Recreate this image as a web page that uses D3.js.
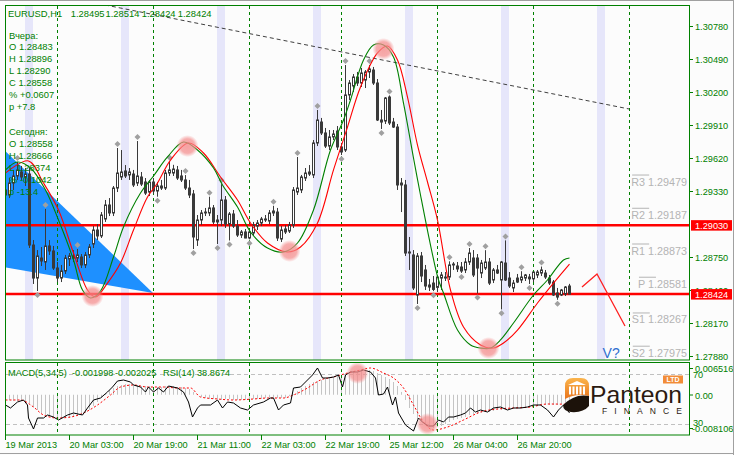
<!DOCTYPE html>
<html><head><meta charset="utf-8">
<script src="https://cdn.jsdelivr.net/npm/d3@7"></script>
<style>
html,body{margin:0;padding:0;background:#fcfcfc;}
svg{display:block;font-family:"Liberation Sans",Arial,sans-serif;}
</style></head><body>
<script>
// ---------------- DATA ----------------
const symbol = "EURUSD,H1";
const headerOHLC = [1.28495, 1.28514, 1.28424, 1.28424];
const yesterdayTitle = "Вчера:";
const yesterdayRows = ["O 1.28483", "H 1.28896", "L 1.28290", "C 1.28558", "% +0.0607", "p +7.8"];
const todayTitle = "Сегодня:";
const todayRows = ["O 1.28558", "H 1.28666", "L 1.28374", "% -0.1042", "p -13.4"];

// hourly candles [open, high, low, close], bar 0 = 19 Mar 2013 11:00
const ohlc = [
[1.29339,1.29400,1.29251,1.29295],[1.29295,1.29444,1.29268,1.29400],[1.29400,1.29515,1.29339,1.29462],[1.29462,1.29585,1.29427,1.29515],
[1.29497,1.29550,1.29427,1.29453],[1.29453,1.29532,1.29374,1.29479],[1.29479,1.29532,1.28829,1.28855],[1.28855,1.28899,1.28513,1.28565],
[1.28565,1.28811,1.28451,1.28759],[1.28741,1.28838,1.28671,1.28715],[1.28706,1.29172,1.28636,1.28847],[1.28847,1.28899,1.28768,1.28803],
[1.28803,1.28847,1.28636,1.28653],[1.28653,1.28706,1.28530,1.28565],[1.28565,1.28680,1.28530,1.28627],[1.28627,1.28768,1.28601,1.28741],
[1.28732,1.28785,1.28671,1.28759],[1.28759,1.28811,1.28706,1.28741],[1.28741,1.28820,1.28706,1.28768],[1.28750,1.28776,1.28653,1.28680],
[1.28680,1.28794,1.28653,1.28768],[1.28768,1.28864,1.28741,1.28838],[1.28864,1.29022,1.28829,1.28987],[1.28987,1.29040,1.28899,1.28935],
[1.28935,1.29145,1.28917,1.29119],[1.29084,1.29251,1.29058,1.29207],[1.29207,1.29268,1.29110,1.29137],[1.29137,1.29374,1.29110,1.29356],
[1.29356,1.29708,1.29321,1.29488],[1.29453,1.29690,1.29427,1.29497],[1.29506,1.29558,1.29444,1.29462],[1.29471,1.29532,1.29427,1.29497],
[1.29479,1.29515,1.29365,1.29383],[1.29400,1.29769,1.29374,1.29462],[1.29453,1.29497,1.29374,1.29391],[1.29409,1.29444,1.29295,1.29312],
[1.29321,1.29427,1.29286,1.29409],[1.29409,1.29444,1.29304,1.29330],[1.29330,1.29409,1.29280,1.29374],[1.29374,1.29427,1.29339,1.29356],
[1.29356,1.29515,1.29339,1.29488],[1.29488,1.29590,1.29462,1.29515],[1.29488,1.29560,1.29462,1.29523],[1.29515,1.29550,1.29427,1.29444],
[1.29462,1.29515,1.29409,1.29427],[1.29427,1.29470,1.29339,1.29356],[1.29356,1.29427,1.29268,1.29295],[1.29304,1.29339,1.28820,1.28926],
[1.28899,1.29119,1.28847,1.29075],[1.29075,1.29163,1.29031,1.29137],[1.29145,1.29181,1.29110,1.29137],[1.29137,1.29280,1.29110,1.29181],
[1.29181,1.29207,1.29040,1.29058],[1.29058,1.29119,1.28864,1.29075],[1.29075,1.29390,1.29022,1.29251],[1.29251,1.29286,1.29005,1.29040],
[1.29040,1.29145,1.28895,1.29128],[1.29128,1.29163,1.29005,1.29022],[1.29022,1.29075,1.28926,1.28943],[1.28943,1.28987,1.28917,1.28970],
[1.28970,1.28996,1.28915,1.28917],[1.28917,1.28987,1.28905,1.28970],[1.28961,1.29058,1.28935,1.29031],[1.29022,1.29075,1.28987,1.29049],
[1.29049,1.29102,1.29022,1.29084],[1.29084,1.29119,1.29058,1.29075],[1.29066,1.29163,1.29040,1.29137],[1.29137,1.29200,1.29110,1.29154],
[1.29145,1.29181,1.28891,1.28917],[1.28908,1.29022,1.28882,1.28987],[1.28996,1.29031,1.28952,1.28970],[1.28978,1.29058,1.28961,1.29031],
[1.29031,1.29365,1.29005,1.29339],[1.29321,1.29629,1.29295,1.29356],[1.29339,1.29471,1.29312,1.29453],[1.29444,1.29532,1.29418,1.29488],
[1.29479,1.29558,1.29462,1.29497],[1.29471,1.29778,1.29444,1.29752],[1.29752,1.30042,1.29725,1.29954],[1.29936,1.29972,1.29822,1.29840],
[1.29840,1.29884,1.29708,1.29725],[1.29725,1.29866,1.29690,1.29805],[1.29805,1.29866,1.29778,1.29831],[1.29857,1.29901,1.29690,1.29717],
[1.29717,1.29752,1.29646,1.29673],[1.29690,1.30437,1.29673,1.30174],[1.30174,1.30305,1.30130,1.30279],[1.30253,1.30358,1.30200,1.30332],
[1.30332,1.30376,1.30253,1.30279],[1.30279,1.30411,1.30244,1.30367],[1.30305,1.30393,1.30235,1.30376],[1.30376,1.30437,1.30323,1.30402],
[1.30393,1.30420,1.30262,1.30279],[1.30279,1.30314,1.29945,1.29954],[1.29954,1.30042,1.29875,1.29936],[1.29945,1.30156,1.29919,1.30147],
[1.30156,1.30170,1.29910,1.29928],[1.29936,1.29972,1.29884,1.29892],[1.29892,1.29919,1.29339,1.29383],[1.29383,1.29444,1.29145,1.29400],
[1.29383,1.29427,1.28759,1.28785],[1.28785,1.28926,1.28636,1.28794],[1.28768,1.28811,1.28460,1.28478],[1.28416,1.28785,1.28337,1.28759],
[1.28759,1.28794,1.28530,1.28583],[1.28636,1.28680,1.28460,1.28495],[1.28504,1.28557,1.28451,1.28486],[1.28521,1.28583,1.28450,1.28465],
[1.28483,1.28592,1.28442,1.28574],[1.28565,1.28618,1.28460,1.28592],[1.28574,1.28618,1.28539,1.28565],[1.28574,1.28712,1.28548,1.28680],
[1.28680,1.28705,1.28636,1.28688],[1.28671,1.28706,1.28618,1.28645],[1.28662,1.28706,1.28610,1.28627],[1.28636,1.28741,1.28609,1.28706],
[1.28706,1.28829,1.28680,1.28785],[1.28741,1.28811,1.28574,1.28592],[1.28741,1.28776,1.28430,1.28653],[1.28609,1.28724,1.28565,1.28697],
[1.28653,1.28810,1.28636,1.28706],[1.28706,1.28741,1.28504,1.28521],[1.28548,1.28653,1.28521,1.28636],[1.28636,1.28680,1.28601,1.28609],
[1.28548,1.28715,1.28290,1.28706],[1.28697,1.28896,1.28539,1.28548],[1.28565,1.28618,1.28478,1.28495],[1.28478,1.28548,1.28442,1.28521],
[1.28565,1.28601,1.28521,1.28530],[1.28548,1.28625,1.28521,1.28574],[1.28565,1.28601,1.28539,1.28592],[1.28574,1.28601,1.28513,1.28558],
[1.28558,1.28618,1.28530,1.28618],[1.28592,1.28636,1.28565,1.28618],[1.28609,1.28666,1.28583,1.28636],[1.28609,1.28636,1.28557,1.28574],
[1.28565,1.28592,1.28504,1.28521],[1.28530,1.28548,1.28407,1.28416],[1.28434,1.28478,1.28374,1.28398],[1.28416,1.28469,1.28407,1.28460],
[1.28425,1.28495,1.28407,1.28486],[1.28495,1.28514,1.28424,1.28424]
];

const upFractals = [3,10,18,28,33,41,45,51,54,67,73,78,85,91,96,111,116,120,125,129,134];
const downFractals = [8,38,47,53,56,61,84,94,103,107,114,118,124,131,138];

// smoothed moving averages: [bar, price]
const greenMA = [[0,1.29515],[3,1.29585],[6.25,1.29532],[10,1.29339],[13.25,1.29075],[17,1.28724],[19.25,1.28460],[21.25,1.28390],[23.75,1.28451],[27,1.28750],[29.5,1.29014],[33.75,1.29312],[37,1.29462],[40.5,1.29629],[44.5,1.29761],[48,1.29690],[52,1.29532],[54.25,1.29383],[58,1.29189],[61.25,1.28970],[65.5,1.28829],[69.5,1.28794],[73,1.28873],[77,1.29163],[81.25,1.29690],[84.5,1.29954],[86.25,1.30130],[89.5,1.30481],[92,1.30613],[94.5,1.30613],[97,1.30508],[99.5,1.30103],[102,1.29620],[103.75,1.29295],[106.25,1.28855],[108.25,1.28548],[109.5,1.28434],[113,1.28108],[116.25,1.27977],[118.75,1.27950],[121.25,1.27950],[123.75,1.28021],[127,1.28170],[132,1.28416],[135.5,1.28548],[139.5,1.28724],[141,1.28741]];
const redMA = [[0,1.29488],[5.75,1.29594],[9.5,1.29400],[13.25,1.29163],[17,1.28785],[20.5,1.28460],[22.5,1.28398],[25.5,1.28521],[28.75,1.28697],[32,1.28987],[35.5,1.29277],[38,1.29400],[41.25,1.29602],[45.75,1.29752],[49.5,1.29664],[53.75,1.29453],[58,1.29251],[61.25,1.29049],[65.5,1.28873],[70.5,1.28794],[73.75,1.28838],[78,1.29049],[82,1.29515],[85.5,1.29892],[88.75,1.30244],[93,1.30543],[95.5,1.30604],[98,1.30481],[100.5,1.30156],[103,1.29734],[105.5,1.29409],[108,1.29075],[111.25,1.28460],[114.5,1.28135],[118.75,1.27977],[122,1.27950],[124.5,1.27994],[128,1.28108],[133,1.28346],[137,1.28521],[141,1.28688]];
const mainHighlights = [[21.75,1.28407],[45.5,1.29725],[71,1.28803],[94.5,1.30578],[120.75,1.27950]];

const hLevels = [1.29030, 1.28424];
const trendLine = [[25,1.30965],[156,1.30051]];
const triangle = [[-0.5,1.29700],[37,1.28434],[-0.5,1.28662]];
const forecastPath = [[144.25,1.28486],[148,1.28601],[155,1.28144]];
const pivotNames = ["R3","R2","R1","P","S1","S2"];
const pivotValues = [1.29479,1.29187,1.28873,1.28581,1.28267,1.27975];
const sessionBands = [5,29,53,77,100,124,148];
const daySeparators = [13,37,61,84,108,132,156];

const priceTicks = [1.30780,1.30490,1.30200,1.29910,1.29620,1.29330,1.28750,1.28460,1.28170,1.27880];
const xTickBars = [0,16,32,48,64,80,96,112,128];
const xTickLabels = ["19 Mar 2013","20 Mar 03:00","20 Mar 19:00","21 Mar 11:00","22 Mar 03:00","22 Mar 19:00","25 Mar 12:00","26 Mar 04:00","26 Mar 20:00"];

// MACD(5,34,5) main per bar
const macdMain = [
-0.00111,-0.00111,-0.00132,-0.00132,-0.00132,-0.00154,-0.00175,
-0.00260,-0.00323,-0.00387,
-0.00429,-0.00450,-0.00472,-0.00493,-0.00493,-0.00493,-0.00493,-0.00472,-0.00450,-0.00429,-0.00387,
-0.00323,-0.00238,-0.00154,-0.00069,
0.00016,0.00101,0.00143,0.00186,0.00207,0.00228,
0.00228,0.00207,0.00207,0.00186,0.00186,0.00186,0.00164,0.00164,0.00164,0.00186,0.00186,0.00186,0.00164,0.00164,0.00143,0.00122,
0.00059,-0.00005,-0.00048,-0.00069,
-0.00090,-0.00090,-0.00090,-0.00111,-0.00090,-0.00090,-0.00111,-0.00111,-0.00111,-0.00111,-0.00090,-0.00090,-0.00090,-0.00090,-0.00069,-0.00069,-0.00069,-0.00069,-0.00069,-0.00069,
-0.00026,0.00016,0.00080,0.00143,0.00186,
0.00228,0.00270,0.00291,0.00313,0.00334,0.00355,0.00376,0.00397,0.00376,
0.00440,0.00482,0.00503,0.00524,0.00524,0.00524,0.00524,0.00503,0.00461,0.00418,0.00376,
0.00334,0.00270,0.00186,0.00059,
-0.00111,-0.00281,-0.00408,-0.00514,-0.00578,-0.00641,-0.00684,-0.00705,
-0.00684,-0.00662,-0.00620,-0.00578,-0.00535,
-0.00514,-0.00493,-0.00472,-0.00429,-0.00408,-0.00408,-0.00387,-0.00366,-0.00366,-0.00344,-0.00323,-0.00323,
-0.00302,-0.00302,-0.00281,-0.00281,-0.00260,-0.00260,-0.00238,-0.00238,-0.00217,-0.00217,-0.00217,-0.00217,-0.00217,-0.00217,-0.00196,-0.00196,-0.00200
];
const macdSignal = [[0,-0.00111],[3.75,-0.00111],[7,-0.00260],[9.5,-0.00429],[13,-0.00493],[16.25,-0.00472],[19.5,-0.00387],[23,-0.00217],[26.25,-0.00005],[28.75,0.00164],[32,0.00207],[35.5,0.00164],[39.5,0.00164],[43,0.00143],[46.25,0.00143],[48.75,-0.00048],[53,-0.00090],[57,-0.00111],[62,-0.00090],[65.5,-0.00069],[69.5,-0.00069],[72,-0.00005],[75.5,0.00143],[78.75,0.00313],[82,0.00376],[85.5,0.00461],[88.75,0.00524],[91.25,0.00567],[94.5,0.00461],[97,0.00355],[99.5,0.00143],[102,-0.00217],[104.5,-0.00578],[107,-0.00747],[110.5,-0.00684],[114.5,-0.00535],[118.75,-0.00366],[123,-0.00302],[127,-0.00281],[131.25,-0.00260],[135.5,-0.00196],[141,-0.00203]];
const rsi = [[0,45.2],[1.25,42.8],[3,47.6],[4.5,49.2],[5.5,45.2],[5.75,34.8],[7,26.0],[8,34.8],[9.5,34.8],[10.5,37.2],[12,35.6],[13.25,33.2],[15.5,37.2],[17,38.8],[19.25,37.2],[20.5,42.8],[22,49.2],[23.75,50.8],[25.5,55.6],[26.75,59.6],[28,64.4],[29.5,65.2],[31.25,63.6],[32,61.2],[33.75,59.6],[35,55.6],[35.75,59.6],[37,55.6],[38.25,58.8],[39.5,55.6],[40.75,60.4],[43,58.8],[44.5,55.6],[45.75,47.6],[46.75,35.6],[48,42.8],[48.75,45.2],[51.25,45.2],[53,49.2],[54.25,42.8],[55.5,47.6],[57,46.8],[58.75,42.8],[60.5,41.2],[62,45.2],[64.5,47.6],[66.25,50.8],[67,50.8],[68.25,41.2],[69.5,45.2],[71.25,46.8],[72,58.8],[73.75,59.6],[75.5,65.2],[76.75,69.2],[78,74.8],[79.25,66.8],[80.5,66.8],[82,67.6],[83.25,69.2],[84.25,59.6],[85,69.2],[86.25,71.6],[88,71.6],[89.5,73.2],[91.25,71.6],[92.5,66.8],[93.25,53.2],[94.5,54.0],[95.5,59.6],[96.75,45.2],[97.5,51.6],[98.25,38.8],[100,29.2],[102,24.4],[103.25,34.8],[104.5,30.8],[105.75,28.4],[107,28.4],[108.25,33.2],[109.5,31.6],[110.75,35.6],[112,35.6],[113.75,37.2],[115,38.8],[116.25,42.8],[117.5,39.6],[118.75,41.2],[120.5,39.6],[122,42.8],[123.75,43.6],[125.5,41.2],[127,42.8],[128.75,42.8],[130.5,43.6],[132,45.2],[133.75,45.2],[135.5,41.2],[137,35.6],[138.25,41.2],[139.5,45.2],[141,38.87]];
const rsiHighlights = [[88,70.8],[105.5,30]];
const macdNow = [-0.001998, -0.002025];
const rsiNow = 38.8674;
const macdAxis = [0.006516, 0, -0.008106];
const rsiLevels = [70, 30];

// ---------------- DRAW ----------------
const GREEN = "#008000", CANDLE = "#3a3a3a";
const svg = d3.select("body").append("svg").attr("width",734).attr("height",455);
const defs = svg.append("defs");
defs.append("clipPath").attr("id","cMain").append("rect").attr("x",6).attr("y",6).attr("width",683).attr("height",354);
defs.append("clipPath").attr("id","cSub").append("rect").attr("x",6).attr("y",363).attr("width",683).attr("height",72);
const rg = defs.append("radialGradient").attr("id","pink");
rg.append("stop").attr("offset","0%").attr("stop-color","#f48a8a").attr("stop-opacity",0.8);
rg.append("stop").attr("offset","65%").attr("stop-color","#f48a8a").attr("stop-opacity",0.7);
rg.append("stop").attr("offset","100%").attr("stop-color","#f48a8a").attr("stop-opacity",0);
const og = defs.append("linearGradient").attr("id","orng").attr("x1",0).attr("y1",0).attr("x2",0).attr("y2",1);
og.append("stop").attr("offset","0%").attr("stop-color","#fbb54c");
og.append("stop").attr("offset","100%").attr("stop-color","#e8741c");

svg.append("rect").attr("width",734).attr("height",455).attr("fill","#fcfcfc");

const x = d3.scaleLinear().domain([0,1]).range([5,9]);
const y = d3.scaleLinear().domain([1.27880,1.30780]).range([356,26]);
const yM = d3.scaleLinear().domain([-0.008106,0.006516]).range([433,364]);
const yR = d3.scaleLinear().domain([30,70]).range([424,374]);

// ---- main panel ----
const main = svg.append("g").attr("clip-path","url(#cMain)");
main.selectAll("rect.band").data(sessionBands).join("rect")
  .attr("x",d=>x(d)).attr("width",d=>x(d+2)-x(d)).attr("y",6).attr("height",354).attr("fill","#e6e6fa");
main.append("path").attr("d", d3.line().x(d=>x(d[0])).y(d=>y(d[1]))(triangle)+"Z").attr("fill","#1e90ff");
main.selectAll("line.sep").data(daySeparators).join("line")
  .attr("x1",d=>x(d)+0.5).attr("x2",d=>x(d)+0.5).attr("y1",6).attr("y2",360)
  .attr("stroke",GREEN).attr("stroke-dasharray","3,3");
main.selectAll("line.lvl").data(hLevels).join("line")
  .attr("x1",5).attr("x2",690).attr("y1",d=>y(d)).attr("y2",d=>y(d)).attr("stroke","#ff0000").attr("stroke-width",2.5);
main.append("line").attr("x1",x(trendLine[0][0])).attr("y1",y(trendLine[0][1]))
  .attr("x2",x(trendLine[1][0])).attr("y2",y(trendLine[1][1]))
  .attr("stroke","#404040").attr("stroke-dasharray","4,3");

// candles
const cg = main.append("g");
ohlc.forEach((d,i)=>{
  const cx = x(i)+0.5;
  cg.append("line").attr("x1",cx).attr("x2",cx).attr("y1",y(d[1])).attr("y2",y(d[2])).attr("stroke",CANDLE);
  const top = y(Math.max(d[0],d[3])), bot = y(Math.min(d[0],d[3]));
  if (d[3] >= d[0]) {
    cg.append("rect").attr("x",x(i)-0.5).attr("width",2).attr("y",top).attr("height",Math.max(bot-top,0.5))
      .attr("fill","#ffffff").attr("stroke",CANDLE);
  } else {
    cg.append("rect").attr("x",x(i)-1).attr("width",3).attr("y",top-0.5).attr("height",Math.max(bot-top+1,1)).attr("fill",CANDLE);
  }
});
const diamond = (cx,cy)=>`M${cx},${cy-3}L${cx+3},${cy}L${cx},${cy+3}L${cx-3},${cy}Z`;
main.selectAll("path.fu").data(upFractals).join("path").attr("d",i=>diamond(x(i)+0.5,y(ohlc[i][1])-4)).attr("fill","#a0a0a0");
main.selectAll("path.fd").data(downFractals).join("path").attr("d",i=>diamond(x(i)+0.5,y(ohlc[i][2])+4)).attr("fill","#a0a0a0");

const ln = d3.line().x(d=>x(d[0])+0.5).y(d=>y(d[1])).curve(d3.curveCatmullRom);
main.append("path").attr("d",ln(redMA)).attr("fill","none").attr("stroke","#ff0000").attr("stroke-width",1.1);
main.append("path").attr("d",ln(greenMA)).attr("fill","none").attr("stroke","#008000").attr("stroke-width",1.1);
main.selectAll("circle.hl").data(mainHighlights).join("circle")
  .attr("cx",d=>x(d[0])+0.5).attr("cy",d=>y(d[1])).attr("r",11).attr("fill","url(#pink)");

main.append("path").attr("d",d3.line().x(d=>x(d[0])).y(d=>y(d[1]))(forecastPath)).attr("fill","none").attr("stroke","#ff2020").attr("stroke-width",1.3);
main.append("text").attr("x",x(149.4)).attr("y",358).attr("font-size",14).attr("fill","#2f6fd0").text("V?");

// pivot labels
pivotNames.forEach((n,k)=>{
  const lv = y(pivotValues[k]);
  const t = main.append("text").attr("x",687).attr("y",lv+11.5).attr("text-anchor","end")
    .attr("font-size",10.8).attr("fill","#b4b4b4").text(n+" "+pivotValues[k].toFixed(5));
  const bb = t.node().getBBox();
  main.append("line").attr("x1",bb.x+1).attr("x2",bb.x+18).attr("y1",lv+1).attr("y2",lv+1).attr("stroke","#b4b4b4");
});

// info text
const tg = svg.append("g").attr("fill",GREEN).attr("font-size",9.4);
tg.append("text").attr("x",8).attr("y",16.5).text(symbol);
const hx = [70.7,105.5,141.7,177.7];
headerOHLC.forEach((v,k)=>tg.append("text").attr("x",hx[k]).attr("y",16.5).text(v.toFixed(5)));
tg.append("text").attr("x",9).attr("y",38.8).text(yesterdayTitle);
yesterdayRows.forEach((s,k)=>tg.append("text").attr("x",9).attr("y",50+k*12).text(s));
tg.append("text").attr("x",9).attr("y",135).text(todayTitle);
todayRows.forEach((s,k)=>tg.append("text").attr("x",9).attr("y",147+k*12).text(s));

// frames
svg.append("rect").attr("x",5.5).attr("y",5.5).attr("width",684).attr("height",354.5).attr("fill","none").attr("stroke",GREEN);

// right price axis
const ax = svg.append("g").attr("font-size",9.2).attr("fill",GREEN);
priceTicks.forEach(v=>{
  ax.append("line").attr("x1",689).attr("x2",693).attr("y1",Math.round(y(v))+0.5).attr("y2",Math.round(y(v))+0.5).attr("stroke",GREEN);
  ax.append("text").attr("x",695).attr("y",y(v)+3.5).text(v.toFixed(5));
});
hLevels.forEach(v=>{
  svg.append("rect").attr("x",691).attr("y",y(v)-5).attr("width",41).attr("height",10.5).attr("fill","#ff0000");
  svg.append("text").attr("x",695).attr("y",y(v)+3.8).attr("font-size",9.2).attr("fill","#ffffff").text(v.toFixed(5));
});

// ---- MACD / RSI panel ----
const sub = svg.append("g").attr("clip-path","url(#cSub)");
sub.selectAll("line.rl").data(rsiLevels).join("line").attr("x1",6).attr("x2",689)
  .attr("y1",d=>yR(d)+0.5).attr("y2",d=>yR(d)+0.5).attr("stroke","#c0c0c0").attr("stroke-dasharray","4,3");
sub.selectAll("line.h").data(macdMain).join("line")
  .attr("x1",(d,i)=>x(i)+0.5).attr("x2",(d,i)=>x(i)+0.5).attr("y1",yM(0)).attr("y2",d=>yM(d))
  .attr("stroke","#c4c4c4");
sub.append("path").attr("d",d3.line().x(d=>x(d[0])+0.5).y(d=>yM(d[1])).curve(d3.curveMonotoneX)(macdSignal))
  .attr("fill","none").attr("stroke","#ff0000").attr("stroke-dasharray","2,2");
sub.append("path").attr("d",d3.line().x(d=>x(d[0])+0.5).y(d=>yR(d[1]))(rsi))
  .attr("fill","none").attr("stroke","#000000");
sub.selectAll("circle.rh").data(rsiHighlights).join("circle")
  .attr("cx",d=>x(d[0])+0.5).attr("cy",d=>yR(d[1])).attr("r",11).attr("fill","url(#pink)");

// logo
const lg = sub.append("g");
lg.append("path").attr("d","M565,399 L565,386 Q565,378 573,378 L581,378 Q589,378 589,386 L589,396 Q576,393 565,399 Z").attr("fill","url(#orng)");
lg.append("path").attr("d","M568,385 L577,381 L586,385 Z").attr("fill","#ffffff");
[569,572.5,576,579.5,583].forEach(cx=>lg.append("rect").attr("x",cx).attr("y",386.5).attr("width",2).attr("height",8).attr("fill","#ffffff"));
lg.append("path").attr("d","M563,405 Q575,393 589,396 L589,406 Q583,413 571,412 Q563,411 563,405 Z").attr("fill","#1c120a");
lg.append("text").attr("x",590).attr("y",403).attr("font-size",24).attr("fill","#2b1a10")
  .attr("textLength",92).attr("lengthAdjust","spacingAndGlyphs").text("Panteon");
lg.append("text").attr("x",602).attr("y",414).attr("font-size",8.5).attr("fill","#2b1a10")
  .attr("textLength",80).attr("lengthAdjust","spacing").text("FINANCE");
lg.append("rect").attr("x",663).attr("y",375.5).attr("width",20).attr("height",8).attr("fill","#f28c38");
lg.append("text").attr("x",673).attr("y",382.2).attr("text-anchor","middle").attr("font-size",7).attr("font-weight","bold").attr("fill","#ffffff").text("LTD");

sub.selectAll("line.sep2").data(daySeparators).join("line")
  .attr("x1",d=>x(d)+0.5).attr("x2",d=>x(d)+0.5).attr("y1",363).attr("y2",435)
  .attr("stroke",GREEN).attr("stroke-dasharray","3,3");

svg.append("rect").attr("x",5.5).attr("y",362.5).attr("width",684).attr("height",72.5).attr("fill","none").attr("stroke",GREEN);

const sl = svg.append("g").attr("font-size",9.2).attr("fill",GREEN);
sl.append("text").attr("x",8).attr("y",376).text("MACD(5,34,5)");
sl.append("text").attr("x",72).attr("y",376).text(macdNow[0].toFixed(6));
sl.append("text").attr("x",115).attr("y",376).text(macdNow[1].toFixed(6));
sl.append("text").attr("x",163).attr("y",376).text("RSI(14)");
sl.append("text").attr("x",197).attr("y",376).text(rsiNow.toFixed(4));

// sub axis labels
const macdLabelY = [372, 398.5, 432];
macdAxis.forEach((v,k)=>{
  sl.append("line").attr("x1",689).attr("x2",693).attr("y1",macdLabelY[k]-3.5).attr("y2",macdLabelY[k]-3.5).attr("stroke",GREEN);
  sl.append("text").attr("x",v<0?692:695).attr("y",macdLabelY[k]).text(v===0?"0.00":v.toFixed(6));
});
const rsiLabelY = [378, 425.5];
rsiLevels.forEach((v,k)=>sl.append("text").attr("x",693).attr("y",rsiLabelY[k]).text(String(v)));

// time axis
xTickBars.forEach((b,k)=>{
  sl.append("line").attr("x1",x(b)+0.5).attr("x2",x(b)+0.5).attr("y1",435).attr("y2",440).attr("stroke",GREEN);
  sl.append("text").attr("x",x(b)+0.5).attr("y",448).text(xTickLabels[k]);
});

// outer frame
svg.append("line").attr("x1",0).attr("x2",734).attr("y1",0.5).attr("y2",0.5).attr("stroke","#a0a0a0");
svg.append("line").attr("x1",733.5).attr("x2",733.5).attr("y1",0).attr("y2",455).attr("stroke","#a0a0a0");
svg.append("line").attr("x1",0).attr("x2",734).attr("y1",453.5).attr("y2",453.5).attr("stroke","#a0a0a0");
</script>
</body></html>
